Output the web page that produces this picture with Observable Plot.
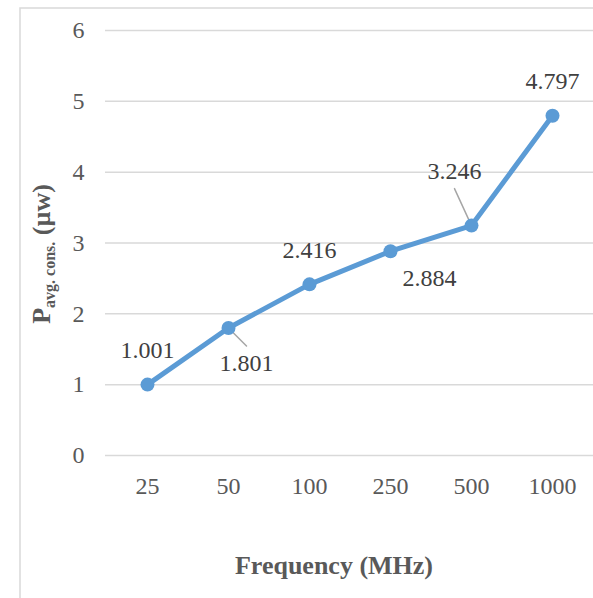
<!DOCTYPE html>
<html><head><meta charset="utf-8">
<script src="https://cdn.jsdelivr.net/npm/d3@7"></script>
<script src="https://cdn.jsdelivr.net/npm/@observablehq/plot@0.6"></script>
<style>
body{margin:0;background:#fff;overflow:hidden}
#chart{position:relative;width:593px;height:598px}
</style></head><body><div id="chart"></div>
<script>
const frequencies = ["25", "50", "100", "250", "500", "1000"];
const power = [1.001, 1.801, 2.416, 2.884, 3.246, 4.797];
const yTicks = [0, 1, 2, 3, 4, 5, 6];
const labelPlacement = ["above", "below-right-leader", "above", "below-right", "above-left-leader", "above"];
const xTitle = "Frequency (MHz)";
const yTitleMain = "P";
const yTitleSub = "avg. cons.";
const yTitleUnit = " (µw)";

const placements = {
  "above": {dx: 0, dy: -34, leader: false},
  "below-right-leader": {dx: 18, dy: 35, leader: true},
  "below-right": {dx: 39, dy: 27, leader: false},
  "above-left-leader": {dx: -17, dy: -54, leader: true}
};

const data = frequencies.map((f, i) => ({freq: f, value: power[i], place: placements[labelPlacement[i]]}));

const FONT = "'Liberation Serif', 'Times New Roman', serif";
const BLUE = "#5B9BD5";

const labelMarks = data.map(d => Plot.text([d], {
  x: "freq", y: "value", text: r => r.value.toFixed(3),
  dx: d.place.dx, dy: d.place.dy, fontSize: 24, fontFamily: FONT, fill: "#404040"
}));

const leaderMarks = data.filter(d => d.place.leader).map(d => {
  const ex = d.place.dx, ey = d.place.dy - Math.sign(d.place.dy) * 17;
  const len = Math.hypot(ex, ey);
  const ang = Math.atan2(ex, -ey) * 180 / Math.PI;
  return Plot.vector([d], {
    x: "freq", y: "value", length: len, rotate: ang, anchor: "start",
    stroke: "#a6a6a6", strokeWidth: 1.5,
    shape: {draw(ctx, l) { ctx.moveTo(0, 0); ctx.lineTo(0, -l); }}
  });
});

const plot = Plot.plot({
  width: 593,
  height: 598,
  marginLeft: 105,
  marginRight: 0,
  marginTop: 30,
  marginBottom: 143,
  style: {background: "transparent", fontFamily: FONT, overflow: "visible"},
  x: {type: "point", domain: frequencies, padding: 0.5, label: null},
  y: {domain: [0, 6], label: null},
  marks: [
    Plot.ruleY(yTicks, {stroke: "#d9d9d9", strokeWidth: 1.5}),
    Plot.axisX({tickSize: 0, tickPadding: 21, fontSize: 24, fill: "#595959", fontFamily: FONT, label: null}),
    Plot.axisY(yTicks, {tickSize: 0, tickPadding: 21, fontSize: 24, fill: "#595959", fontFamily: FONT, label: null, tickFormat: d => String(d)}),
    ...leaderMarks,
    Plot.line(data, {x: "freq", y: "value", stroke: BLUE, strokeWidth: 5, strokeLinejoin: "round"}),
    Plot.dot(data, {x: "freq", y: "value", r: 7, fill: BLUE, stroke: "none"}),
    ...labelMarks
  ]
});

const svg = d3.select(plot);
svg.insert("rect", ":first-child")
  .attr("x", 20).attr("y", 8).attr("width", 640).attr("height", 700)
  .attr("fill", "#fff").attr("stroke", "#d9d9d9").attr("stroke-width", 1.5);

svg.append("text")
  .attr("x", 334).attr("y", 574)
  .attr("text-anchor", "middle")
  .attr("font-family", FONT).attr("font-size", 26).attr("font-weight", "bold")
  .attr("fill", "#595959")
  .text(xTitle);

const yt = svg.append("text")
  .attr("transform", "translate(50,254) rotate(-90)")
  .attr("text-anchor", "middle")
  .attr("font-family", FONT).attr("font-size", 26).attr("font-weight", "bold")
  .attr("fill", "#595959");
yt.append("tspan").text(yTitleMain);
yt.append("tspan").attr("font-size", 16).attr("dy", 5).text(yTitleSub);
yt.append("tspan").attr("dy", -5).text(yTitleUnit);

document.getElementById("chart").appendChild(plot);
</script>
</body></html>
